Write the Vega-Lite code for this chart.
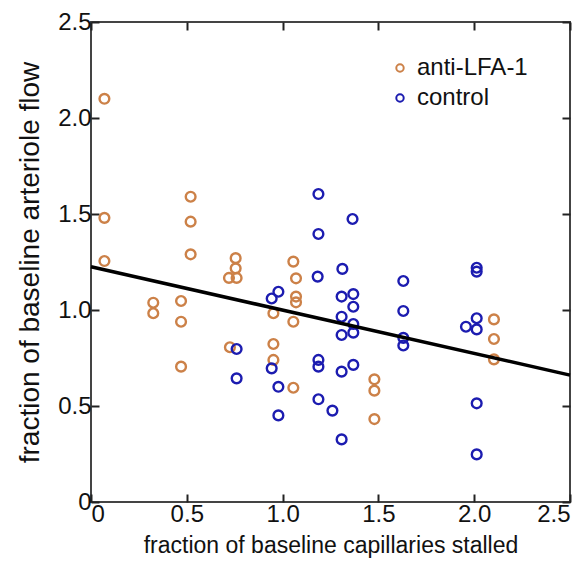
{
  "$schema": "https://vega.github.io/schema/vega-lite/v6.json",
  "width": 479,
  "height": 480,
  "autosize": {"type": "none"},
  "padding": {"left": 91, "top": 22, "right": 16, "bottom": 65},
  "background": "white",
  "config": {
    "font": "Liberation Sans",
    "view": {"stroke": "#444", "strokeWidth": 2},
    "axis": {"grid": false, "domain": false, "tickColor": "#222", "tickWidth": 2, "tickSize": -8, "labelFontSize": 24, "titleFontSize": 23, "labelColor": "#111", "titleColor": "#111", "titleFontWeight": "normal"}
  },
  "datasets": {
    "pts": [
      {"x": 0.07, "y": 2.10, "g": "anti-LFA-1"},
      {"x": 0.07, "y": 1.48, "g": "anti-LFA-1"},
      {"x": 0.07, "y": 1.255, "g": "anti-LFA-1"},
      {"x": 0.325, "y": 1.038, "g": "anti-LFA-1"},
      {"x": 0.325, "y": 0.983, "g": "anti-LFA-1"},
      {"x": 0.47, "y": 1.047, "g": "anti-LFA-1"},
      {"x": 0.47, "y": 0.939, "g": "anti-LFA-1"},
      {"x": 0.47, "y": 0.705, "g": "anti-LFA-1"},
      {"x": 0.52, "y": 1.59, "g": "anti-LFA-1"},
      {"x": 0.52, "y": 1.46, "g": "anti-LFA-1"},
      {"x": 0.52, "y": 1.29, "g": "anti-LFA-1"},
      {"x": 0.755, "y": 1.27, "g": "anti-LFA-1"},
      {"x": 0.755, "y": 1.217, "g": "anti-LFA-1"},
      {"x": 0.72, "y": 1.167, "g": "anti-LFA-1"},
      {"x": 0.76, "y": 1.167, "g": "anti-LFA-1"},
      {"x": 0.725, "y": 0.806, "g": "anti-LFA-1"},
      {"x": 0.952, "y": 0.983, "g": "anti-LFA-1"},
      {"x": 0.952, "y": 0.823, "g": "anti-LFA-1"},
      {"x": 0.952, "y": 0.74, "g": "anti-LFA-1"},
      {"x": 1.056, "y": 1.252, "g": "anti-LFA-1"},
      {"x": 1.056, "y": 0.939, "g": "anti-LFA-1"},
      {"x": 1.056, "y": 0.595, "g": "anti-LFA-1"},
      {"x": 1.07, "y": 1.165, "g": "anti-LFA-1"},
      {"x": 1.07, "y": 1.07, "g": "anti-LFA-1"},
      {"x": 1.07, "y": 1.04, "g": "anti-LFA-1"},
      {"x": 1.479, "y": 0.639, "g": "anti-LFA-1"},
      {"x": 1.479, "y": 0.58, "g": "anti-LFA-1"},
      {"x": 1.479, "y": 0.432, "g": "anti-LFA-1"},
      {"x": 2.103, "y": 0.951, "g": "anti-LFA-1"},
      {"x": 2.103, "y": 0.849, "g": "anti-LFA-1"},
      {"x": 2.103, "y": 0.743, "g": "anti-LFA-1"},
      {"x": 0.943, "y": 1.06, "g": "control"},
      {"x": 0.978, "y": 1.095, "g": "control"},
      {"x": 0.76, "y": 0.797, "g": "control"},
      {"x": 0.943, "y": 0.696, "g": "control"},
      {"x": 0.76, "y": 0.644, "g": "control"},
      {"x": 0.978, "y": 0.60, "g": "control"},
      {"x": 0.978, "y": 0.451, "g": "control"},
      {"x": 1.187, "y": 1.604, "g": "control"},
      {"x": 1.365, "y": 1.474, "g": "control"},
      {"x": 1.187, "y": 1.396, "g": "control"},
      {"x": 1.183, "y": 1.174, "g": "control"},
      {"x": 1.312, "y": 1.214, "g": "control"},
      {"x": 1.63, "y": 1.151, "g": "control"},
      {"x": 1.308, "y": 1.07, "g": "control"},
      {"x": 1.369, "y": 1.083, "g": "control"},
      {"x": 1.369, "y": 1.017, "g": "control"},
      {"x": 1.63, "y": 0.995, "g": "control"},
      {"x": 1.308, "y": 0.965, "g": "control"},
      {"x": 1.369, "y": 0.927, "g": "control"},
      {"x": 1.369, "y": 0.882, "g": "control"},
      {"x": 1.308, "y": 0.870, "g": "control"},
      {"x": 1.63, "y": 0.855, "g": "control"},
      {"x": 1.63, "y": 0.815, "g": "control"},
      {"x": 1.187, "y": 0.74, "g": "control"},
      {"x": 1.187, "y": 0.705, "g": "control"},
      {"x": 1.308, "y": 0.679, "g": "control"},
      {"x": 1.369, "y": 0.714, "g": "control"},
      {"x": 1.187, "y": 0.535, "g": "control"},
      {"x": 1.26, "y": 0.476, "g": "control"},
      {"x": 1.308, "y": 0.326, "g": "control"},
      {"x": 2.013, "y": 1.22, "g": "control"},
      {"x": 2.013, "y": 1.20, "g": "control"},
      {"x": 2.013, "y": 0.957, "g": "control"},
      {"x": 1.957, "y": 0.913, "g": "control"},
      {"x": 2.013, "y": 0.899, "g": "control"},
      {"x": 2.013, "y": 0.514, "g": "control"},
      {"x": 2.013, "y": 0.248, "g": "control"}
    ],
    "fit": [
      {"x": 0, "y": 1.225},
      {"x": 2.5, "y": 0.661}
    ]
  },
  "layer": [
    {
      "data": {"name": "pts"},
      "mark": {"type": "point", "shape": "circle", "filled": false, "strokeWidth": 2.4, "size": 95, "opacity": 1},
      "encoding": {
        "x": {"field": "x", "type": "quantitative", "scale": {"domain": [0, 2.5], "nice": false}, "axis": {"values": [0, 0.5, 1, 1.5, 2, 2.5], "labelExpr": "datum.value == 0 ? '0' : format(datum.value, '.1f')", "labelPadding": 8, "title": "fraction of baseline capillaries stalled", "titlePadding": 8}},
        "y": {"field": "y", "type": "quantitative", "scale": {"domain": [0, 2.5], "nice": false}, "axis": {"values": [0, 0.5, 1, 1.5, 2, 2.5], "labelExpr": "datum.value == 0 ? '0' : format(datum.value, '.1f')", "labelPadding": 8, "title": "fraction of baseline arteriole flow", "titleFontSize": 28, "titlePadding": 13}},
        "color": {"field": "g", "type": "nominal", "scale": {"domain": ["anti-LFA-1", "control"], "range": ["#cc8148", "#1c1cb0"]}, "legend": {"title": null, "orient": "none", "legendX": 297, "legendY": 34, "labelFontSize": 24, "labelColor": "#111", "symbolSize": 55, "symbolStrokeWidth": 2, "rowPadding": 6, "labelOffset": 5}}
      }
    },
    {
      "data": {"name": "fit"},
      "mark": {"type": "line", "color": "black", "strokeWidth": 3.5},
      "encoding": {
        "x": {"field": "x", "type": "quantitative", "axis": null},
        "y": {"field": "y", "type": "quantitative", "axis": null}
      }
    },
    {
      "data": {"values": [{}]},
      "mark": {"type": "point", "opacity": 0},
      "encoding": {
        "x": {"datum": 0, "type": "quantitative", "axis": {"orient": "top", "values": [0, 0.5, 1, 1.5, 2, 2.5], "labels": false, "title": null}},
        "y": {"datum": 0, "type": "quantitative", "axis": {"orient": "right", "values": [0, 0.5, 1, 1.5, 2, 2.5], "labels": false, "title": null}}
      }
    }
  ],
  "resolve": {"axis": {"x": "independent", "y": "independent"}}
}
